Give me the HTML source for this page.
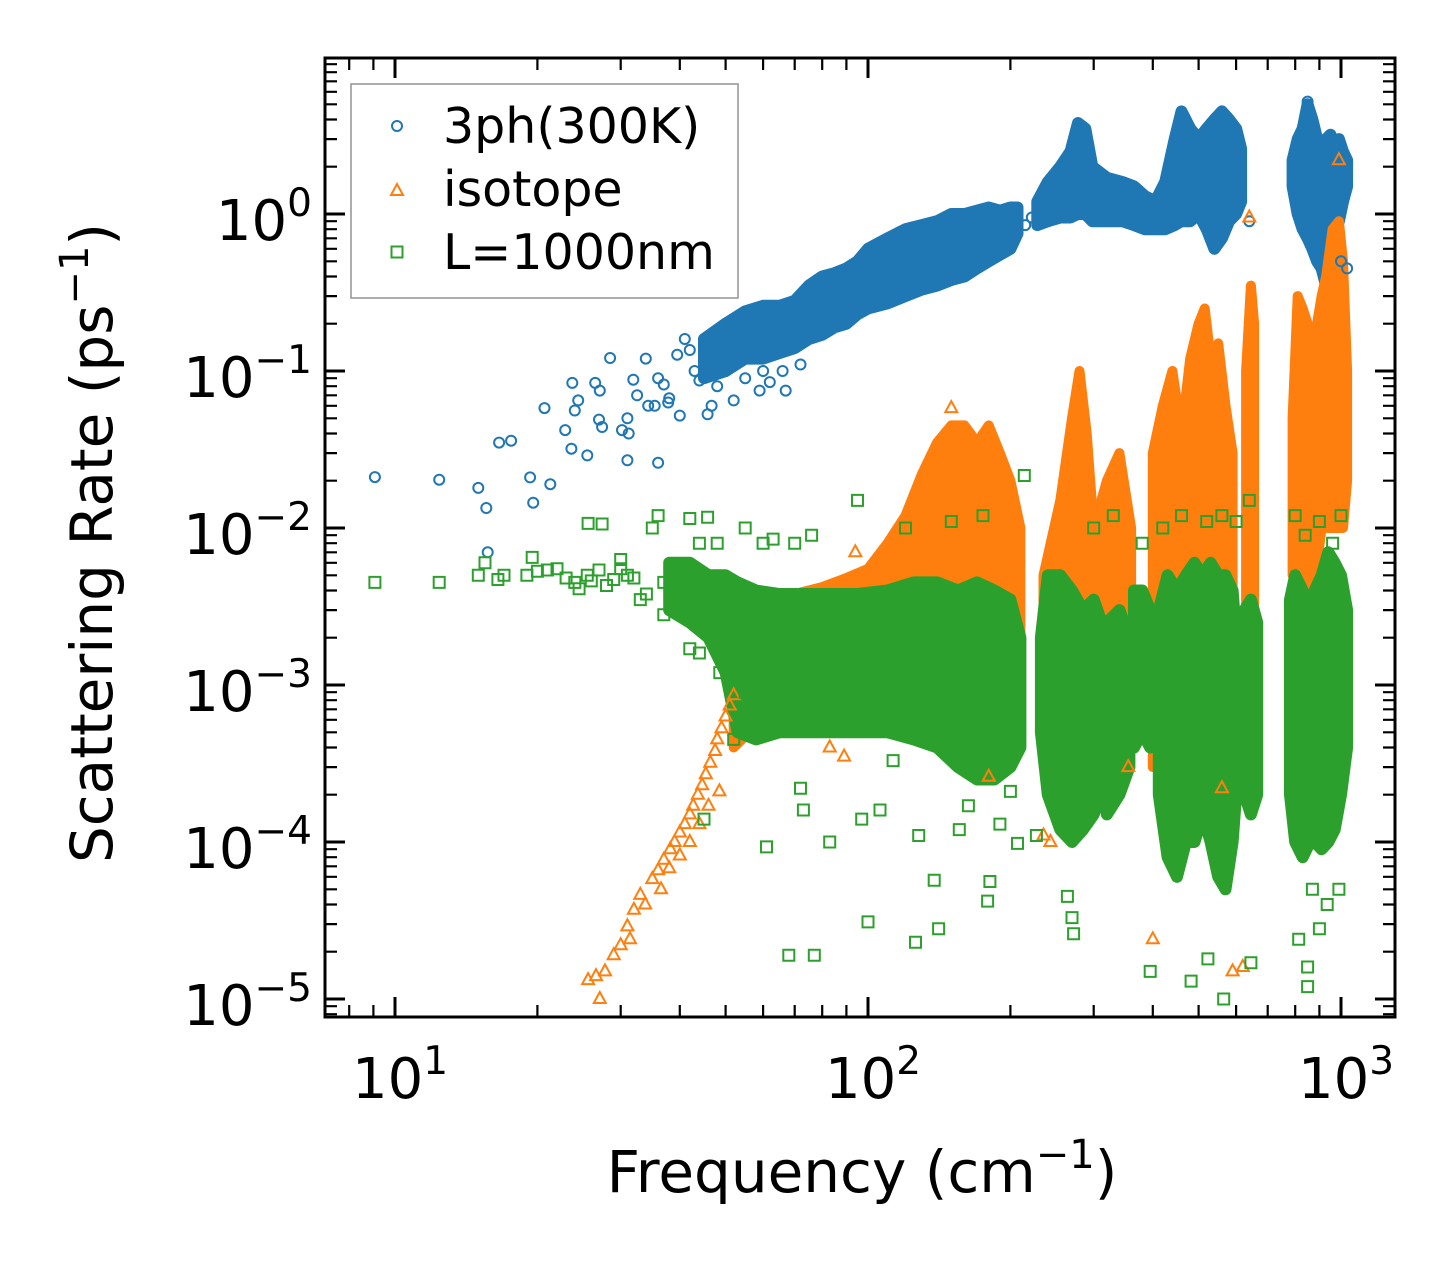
<!DOCTYPE html>
<html><head><meta charset="utf-8">
<style>
html,body{margin:0;padding:0;background:#fff;}
svg{display:block;font-family:"DejaVu Sans","Liberation Sans",sans-serif;}
</style></head>
<body>
<svg id="chart" width="1455" height="1265" viewBox="0 0 1455 1265" xmlns="http://www.w3.org/2000/svg">
<rect x="0" y="0" width="1455" height="1265" fill="#fff"/>
<g id="bands"></g>
<g id="points"></g>
<g id="axes"></g>
<g id="legend">
  <rect x="351" y="84" width="387" height="214" fill="#fff" fill-opacity="0.8" stroke="#999" stroke-width="1.6"/>
  <circle cx="397" cy="126" r="5" fill="none" stroke="#1f77b4" stroke-width="2"/>
  <text x="443" y="143" font-size="49" fill="#000">3ph(300K)</text>
  <path d="M391,195 L403,195 L397,184 Z" fill="none" stroke="#ff7f0e" stroke-width="2"/>
  <text x="443" y="206" font-size="49" fill="#000">isotope</text>
  <rect x="391.5" y="246.5" width="11" height="11" fill="none" stroke="#2ca02c" stroke-width="2"/>
  <text x="443" y="269" font-size="49" fill="#000">L=1000nm</text>
</g>
<text x="862" y="1192" font-size="58" text-anchor="middle" fill="#000">Frequency (cm<tspan dy="-24" font-size="40">−1</tspan><tspan dy="24">)</tspan></text>
<text transform="translate(112,543) rotate(-90)" x="0" y="0" font-size="58" text-anchor="middle" fill="#000">Scattering Rate (ps<tspan dy="-24" font-size="40">−1</tspan><tspan dy="24">)</tspan></text>
</svg>
<script>
// ---- axis tick labels ----
const xTickExps = [1, 2, 3];
const yTickExps = [0, -1, -2, -3, -4, -5];

// ---- 3ph (300K) scattered points ----
const phF = [9.07,12.4,15,15.6,15.7,16.6,17.6,19.3,19.6,20.7,21.3,22.9,23.7,23.6,24,24.4,25.5,26.5,27.1,28.5,27,27.4,30.2,31,31,31.2,31.9,32.5,33.9,34.3,35.4,36,36,37,38,37.8,40,39.5,42,44,45.8,46.7,59,67,48,50,52,55,60,62,66,72,41,43,45,47,49,215,222,640,1000,850,1030];
const phV = [0.0211,0.0203,0.018,0.0134,0.007,0.035,0.036,0.021,0.0145,0.058,0.019,0.042,0.084,0.032,0.056,0.065,0.029,0.084,0.075,0.121,0.049,0.044,0.042,0.05,0.027,0.04,0.088,0.07,0.12,0.06,0.06,0.026,0.09,0.082,0.067,0.063,0.052,0.127,0.136,0.087,0.053,0.06,0.075,0.075,0.08,0.1,0.065,0.09,0.1,0.085,0.1,0.11,0.16,0.1,0.14,0.12,0.15,0.85,0.95,0.9,0.5,5.2,0.45];
// 3ph dense cloud envelope (null = gap)
const phBandF  = [45,50,55,60,65,70,75,80,85,90,95,100,110,120,130,140,150,160,170,180,190,200,207,null,228,240,255,268,278,288,298,320,345,365,385,405,425,445,460,480,500,520,540,560,580,600,615,null,790,810,830,850,870,890,910,930,950,970,990,1010,1030];
const phBandLo = [0.09,0.1,0.12,0.12,0.13,0.14,0.16,0.17,0.19,0.2,0.23,0.25,0.27,0.3,0.33,0.35,0.38,0.4,0.45,0.5,0.55,0.6,0.75,null,0.85,0.9,0.95,0.95,1.0,1.0,0.9,0.9,0.9,0.85,0.8,0.8,0.8,0.85,0.9,0.9,1.0,0.8,0.6,0.7,0.9,1.0,1.2,null,1.5,1.0,0.8,0.7,0.6,0.5,0.45,0.35,0.6,0.8,0.9,1.2,1.5];
const phBandHi = [0.16,0.2,0.24,0.26,0.26,0.28,0.35,0.4,0.42,0.45,0.5,0.6,0.7,0.8,0.85,0.9,1.0,1.0,1.05,1.1,1.05,1.1,1.1,null,1.2,1.6,2.0,2.5,3.8,3.5,2.0,1.7,1.6,1.5,1.3,1.2,1.6,3.0,4.5,3.5,3.0,3.5,4.0,4.5,4.0,3.5,2.6,null,2.2,3.0,3.5,5.0,4.0,3.0,2.5,3.0,3.2,2.5,3.0,2.5,2.2];

// ---- isotope scattered points ----
const isoF = [25.6,27.1,26.6,27.8,29,30,31,31.4,32,33,33.8,35,36,37,38.2,39,40,41,42,42.7,43.7,44.6,45.4,46.4,47.5,48,49,50,51,52,36.5,38,40,42,44,46,48.5,990,640,205,94,150,243,235,400,590,355,620,560,1000,83,89,180];
const isoV = [1.32e-5,1.0e-5,1.4e-5,1.5e-5,1.9e-5,2.2e-5,2.9e-5,2.4e-5,3.7e-5,4.6e-5,4.0e-5,5.8e-5,6.6e-5,7.7e-5,9.0e-5,1.0e-4,1.15e-4,1.3e-4,1.5e-4,1.7e-4,2.0e-4,2.3e-4,2.7e-4,3.2e-4,3.8e-4,4.5e-4,5.3e-4,6.3e-4,7.4e-4,8.6e-4,5e-5,6.8e-5,8.2e-5,1.0e-4,1.3e-4,1.7e-4,2.1e-4,2.2,0.95,7e-3,7e-3,0.058,1e-4,1.1e-4,2.4e-5,1.5e-5,3e-4,1.6e-5,2.2e-4,0.1,4e-4,3.5e-4,2.6e-4];
const isoBandF  = [52,56,60,70,80,90,100,110,120,130,140,150,160,170,180,190,200,210,null,235,255,270,280,290,300,320,340,360,null,400,420,440,460,480,500,515,530,550,570,590,null,630,645,655,null,790,810,830,850,870,890,910,930,960,990,1010,1030];
const isoBandLo = [4e-4,5e-4,5e-4,5e-4,5e-4,5e-4,5e-4,5e-4,5e-4,5e-4,5e-4,5e-4,5e-4,5e-4,5e-4,5e-4,5e-4,5e-4,null,4e-4,4e-4,4e-4,4e-4,4e-4,4e-4,4e-4,4e-4,4e-4,null,3e-4,3e-4,3e-4,3e-4,3e-4,3e-4,3e-4,3e-4,3e-4,3e-4,3e-4,null,1e-3,1e-3,1e-3,null,5e-3,5e-3,5e-3,5e-3,4e-3,6e-3,1e-2,1e-2,1e-2,1e-2,1e-2,2e-2];
const isoBandHi = [1.5e-3,2.5e-3,3e-3,3.8e-3,4.2e-3,4.8e-3,5.5e-3,8e-3,1.2e-2,2.2e-2,3.5e-2,4.5e-2,4.5e-2,3.5e-2,4.5e-2,3e-2,2e-2,1e-2,null,5e-3,1.5e-2,5e-2,0.1,4e-2,1e-2,2e-2,3e-2,1e-2,null,3e-2,6e-2,0.1,4e-2,0.12,0.2,0.25,0.12,0.15,6e-2,3e-2,null,0.1,0.35,0.2,null,0.05,0.3,0.25,0.2,0.15,0.2,0.3,0.4,0.8,0.9,0.5,0.1];

// ---- boundary (L=1000nm) scattered points ----
const bdF = [9.07,12.4,15,15.5,16.5,17,19,19.5,20,21,22,23,24,24.5,25.6,25.5,26,27.4,27,28,29,30,30,31,32,33,34,36,35,37,37,45.8,42,44,48,55,60,63,70,76,42,44,48.6,55,52,45,61,68,77,100,126,141,138,179,181,264,270,272,395,482,523,565,645,814,850,850,870,935,990,900,214,72,73,83,97,106,113,128,156,163,190,200,207,227,300,330,380,420,460,520,560,600,640,800,840,900,960,1000,95,120,150,175];
const bdV = [4.5e-3,4.5e-3,5e-3,6e-3,4.7e-3,5e-3,5e-3,6.5e-3,5.3e-3,5.4e-3,5.5e-3,4.8e-3,4.5e-3,4.1e-3,1.07e-2,5e-3,4.6e-3,1.06e-2,5.4e-3,4.3e-3,4.7e-3,6.3e-3,5.5e-3,5e-3,4.8e-3,3.5e-3,3.8e-3,1.2e-2,1.0e-2,4.5e-3,2.8e-3,1.17e-2,1.15e-2,8e-3,8e-3,1e-2,8e-3,8.5e-3,8e-3,9e-3,1.7e-3,1.6e-3,1.2e-3,9e-4,4.5e-4,1.4e-4,9.3e-5,1.9e-5,1.9e-5,3.1e-5,2.3e-5,2.8e-5,5.7e-5,4.2e-5,5.6e-5,4.5e-5,3.3e-5,2.6e-5,1.5e-5,1.3e-5,1.8e-5,1e-5,1.7e-5,2.4e-5,1.6e-5,1.2e-5,5e-5,4e-5,5e-5,2.8e-5,0.0216,2.2e-4,1.6e-4,1e-4,1.4e-4,1.6e-4,3.3e-4,1.1e-4,1.2e-4,1.7e-4,1.3e-4,2.1e-4,9.8e-5,1.1e-4,1e-2,1.2e-2,8e-3,1e-2,1.2e-2,1.1e-2,1.2e-2,1.1e-2,1.5e-2,1.2e-2,9e-3,1.1e-2,8e-3,1.2e-2,1.5e-2,1e-2,1.1e-2,1.2e-2];
const bdBandF  = [38,42,46,50,53,58,65,75,85,95,110,125,140,155,170,185,200,210,null,232,240,255,270,285,300,312,null,320,340,357,null,365,380,395,null,412,430,450,470,490,510,530,550,570,590,600,null,625,645,665,null,780,800,830,860,880,910,940,970,1000,1030];
const bdBandLo = [3e-3,2.5e-3,2e-3,1.2e-3,5e-4,4.5e-4,5e-4,5e-4,5e-4,5e-4,5e-4,4.5e-4,4e-4,3e-4,2.5e-4,2.5e-4,3e-4,4e-4,null,5e-4,2e-4,1.2e-4,1e-4,1.2e-4,1.5e-4,2e-4,null,1.5e-4,2e-4,3e-4,null,4e-4,5e-4,4e-4,null,2e-4,8e-5,6e-5,1e-4,1e-4,1.5e-4,1e-4,6e-5,5e-5,1e-4,2e-4,null,2e-4,1.5e-4,2e-4,null,2e-4,1e-4,8e-5,1e-4,1e-4,9e-5,1e-4,1.2e-4,2e-4,4e-4];
const bdBandHi = [6e-3,6e-3,5e-3,5e-3,4.5e-3,4e-3,3.8e-3,3.8e-3,3.8e-3,3.8e-3,4e-3,4.5e-3,4.5e-3,4e-3,4.5e-3,4e-3,3.5e-3,2e-3,null,2e-3,5e-3,5e-3,4e-3,3e-3,3.5e-3,2.5e-3,null,2.5e-3,3e-3,2e-3,null,4e-3,4e-3,3e-3,null,3e-3,5e-3,4e-3,5e-3,6e-3,5e-3,6e-3,5e-3,5e-3,4e-3,2e-3,null,3e-3,3.5e-3,2.5e-3,null,3.5e-3,5e-3,4e-3,3e-3,4e-3,5e-3,7e-3,6e-3,5e-3,3e-3];

// ---- axis functions ----
const PL = 325, PR = 1395, PT = 58, PB = 1017;
function X(f){ return 395 + 473 * (Math.log10(f) - 1); }
function Y(v){ return 214 - 157 * Math.log10(v); }

const NS = "http://www.w3.org/2000/svg";
function mk(tag, attrs, parent){
  const e = document.createElementNS(NS, tag);
  for (const k in attrs) e.setAttribute(k, attrs[k]);
  parent.appendChild(e);
  return e;
}
const bands = document.getElementById('bands');
const pts = document.getElementById('points');
const axes = document.getElementById('axes');

function bandPath(F, Lo, Hi){
  let d = '', seg = [];
  const flush = () => {
    if (seg.length){
      let s = 'M' + seg.map(i => X(F[i]).toFixed(1) + ',' + Y(Hi[i]).toFixed(1)).join(' L');
      s += ' L' + seg.slice().reverse().map(i => X(F[i]).toFixed(1) + ',' + Y(Lo[i]).toFixed(1)).join(' L') + ' Z ';
      d += s;
    }
    seg = [];
  };
  for (let i = 0; i < F.length; i++){ if (F[i] === null) flush(); else seg.push(i); }
  flush();
  return d;
}
function circlePath(F, V){
  let d = '';
  for (let i = 0; i < F.length; i++){
    const x = X(F[i]), y = Y(V[i]);
    d += 'M' + (x - 5).toFixed(1) + ',' + y.toFixed(1) + ' a5,5 0 1,0 10,0 a5,5 0 1,0 -10,0 ';
  }
  return d;
}
function triPath(F, V){
  let d = '';
  for (let i = 0; i < F.length; i++){
    const x = X(F[i]), y = Y(V[i]);
    d += 'M' + (x - 6).toFixed(1) + ',' + (y + 4).toFixed(1) + ' L' + (x + 6).toFixed(1) + ',' + (y + 4).toFixed(1) + ' L' + x.toFixed(1) + ',' + (y - 7).toFixed(1) + ' Z ';
  }
  return d;
}
function sqPath(F, V){
  let d = '';
  for (let i = 0; i < F.length; i++){
    const x = X(F[i]), y = Y(V[i]);
    d += 'M' + (x - 5.5).toFixed(1) + ',' + (y - 5.5).toFixed(1) + ' h11 v11 h-11 Z ';
  }
  return d;
}

const defs = mk('defs', {}, document.getElementById('chart'));
const cp = mk('clipPath', {id: 'plotclip'}, defs);
mk('rect', {x: PL, y: PT, width: PR - PL, height: PB - PT}, cp);
bands.setAttribute('clip-path', 'url(#plotclip)');
pts.setAttribute('clip-path', 'url(#plotclip)');

let el;
el = mk('path', {d: bandPath(phBandF, phBandLo, phBandHi), fill: '#1f77b4', stroke: '#1f77b4', 'stroke-width': 12, 'stroke-linejoin': 'round'}, bands);


el = mk('path', {d: circlePath(phF, phV), fill: 'none', stroke: '#1f77b4', 'stroke-width': 2}, pts);



el = mk('path', {d: bandPath(isoBandF, isoBandLo, isoBandHi), fill: '#ff7f0e', stroke: '#ff7f0e', 'stroke-width': 10, 'stroke-linejoin': 'round'}, bands);


el = mk('path', {d: triPath(isoF, isoV), fill: 'none', stroke: '#ff7f0e', 'stroke-width': 2}, pts);



el = mk('path', {d: bandPath(bdBandF, bdBandLo, bdBandHi), fill: '#2ca02c', stroke: '#2ca02c', 'stroke-width': 12, 'stroke-linejoin': 'round'}, bands);


el = mk('path', {d: sqPath(bdF, bdV), fill: 'none', stroke: '#2ca02c', 'stroke-width': 2}, pts);



// ---- axes frame and ticks ----
el = mk('rect', {x: PL, y: PT, width: PR - PL, height: PB - PT, fill: 'none', stroke: '#000', 'stroke-width': 3}, axes);


let td = '', tdm = '';
for (let e = 0; e <= 3; e++){
  for (let k = 1; k <= 9; k++){
    const x = X(k * Math.pow(10, e));
    if (x < PL + 1 || x > PR - 1) continue;
    const L = k === 1 ? 20 : 12;
    const s = 'M' + x.toFixed(1) + ',' + PB + ' v' + (-L) + ' M' + x.toFixed(1) + ',' + PT + ' v' + L + ' ';
    if (k === 1) td += s; else tdm += s;
  }
}
for (let e = -6; e <= 1; e++){
  for (let k = 1; k <= 9; k++){
    const y = Y(k * Math.pow(10, e));
    if (y < PT + 1 || y > PB - 1) continue;
    const L = k === 1 ? 20 : 12;
    const s = 'M' + PL + ',' + y.toFixed(1) + ' h' + L + ' M' + PR + ',' + y.toFixed(1) + ' h' + (-L) + ' ';
    if (k === 1) td += s; else tdm += s;
  }
}
el = mk('path', {d: td, stroke: '#000', 'stroke-width': 3, fill: 'none'}, axes);


el = mk('path', {d: tdm, stroke: '#000', 'stroke-width': 2.2, fill: 'none'}, axes);



function expLabel(x, y, exp, anchor, name){
  const t = mk('text', {x: x, y: y, 'font-size': 56, 'text-anchor': anchor, fill: '#000'}, axes);
  
  
  t.appendChild(document.createTextNode('10'));
  const sp = mk('tspan', {dy: -24, 'font-size': 39}, t);
  sp.textContent = (exp < 0 ? '\u2212' : '') + Math.abs(exp);
}
xTickExps.forEach(e => expLabel(X(Math.pow(10, e)) + 5, 1098, e, 'middle', 'x-tick-label-1e' + e));
yTickExps.forEach(e => expLabel(312, Y(Math.pow(10, e)) + 26, e, 'end', 'y-tick-label-1e' + e));
</script>
</body></html>
